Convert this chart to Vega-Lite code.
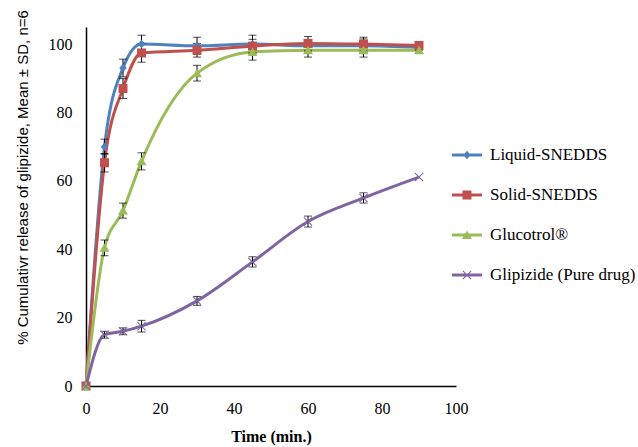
{
  "$schema": "https://vega.github.io/schema/vega-lite/v6.json",
  "width": 370,
  "height": 359,
  "autosize": {"type": "none"},
  "padding": {"left": 86, "top": 27, "right": 182, "bottom": 61},
  "background": "white",
  "config": {
    "view": {"stroke": null},
    "axis": {"grid": false, "ticks": false, "domainColor": "black", "domainWidth": 1.5, "labelColor": "black", "labelFont": "Liberation Serif", "labelFontSize": 16, "titleColor": "black", "labelFlush": false},
    "legend": {"symbolSize": 900, "symbolStrokeWidth": 0, "labelFont": "Liberation Serif", "labelFontSize": 17, "labelColor": "black", "labelOffset": 8, "rowPadding": 17, "padding": 0, "labelLimit": 300}
  },
  "data": {
    "values": [
      {"series": "Liquid-SNEDDS", "t": 0, "y": 0, "sd": 0},
      {"series": "Liquid-SNEDDS", "t": 5, "y": 70, "sd": 2.2},
      {"series": "Liquid-SNEDDS", "t": 10, "y": 93, "sd": 2.6},
      {"series": "Liquid-SNEDDS", "t": 15, "y": 100, "sd": 2.6},
      {"series": "Liquid-SNEDDS", "t": 30, "y": 99.5, "sd": 2.5},
      {"series": "Liquid-SNEDDS", "t": 45, "y": 100, "sd": 2.6},
      {"series": "Liquid-SNEDDS", "t": 60, "y": 99.5, "sd": 1.8},
      {"series": "Liquid-SNEDDS", "t": 75, "y": 99.5, "sd": 2},
      {"series": "Liquid-SNEDDS", "t": 90, "y": 99, "sd": 0.8},
      {"series": "Solid-SNEDDS", "t": 0, "y": 0, "sd": 0},
      {"series": "Solid-SNEDDS", "t": 5, "y": 65.3, "sd": 2.7},
      {"series": "Solid-SNEDDS", "t": 10, "y": 87, "sd": 2.9},
      {"series": "Solid-SNEDDS", "t": 15, "y": 97.4, "sd": 2.7},
      {"series": "Solid-SNEDDS", "t": 30, "y": 98.2, "sd": 2},
      {"series": "Solid-SNEDDS", "t": 45, "y": 99.4, "sd": 2},
      {"series": "Solid-SNEDDS", "t": 60, "y": 100.2, "sd": 2},
      {"series": "Solid-SNEDDS", "t": 75, "y": 100, "sd": 2},
      {"series": "Solid-SNEDDS", "t": 90, "y": 99.6, "sd": 0.8},
      {"series": "Glucotrol®", "t": 0, "y": 0, "sd": 0},
      {"series": "Glucotrol®", "t": 5, "y": 40.4, "sd": 2.3},
      {"series": "Glucotrol®", "t": 10, "y": 51.3, "sd": 2.2},
      {"series": "Glucotrol®", "t": 15, "y": 65.7, "sd": 2.5},
      {"series": "Glucotrol®", "t": 30, "y": 91.5, "sd": 2.3},
      {"series": "Glucotrol®", "t": 45, "y": 97.7, "sd": 2.4},
      {"series": "Glucotrol®", "t": 60, "y": 98.2, "sd": 2},
      {"series": "Glucotrol®", "t": 75, "y": 98.2, "sd": 2},
      {"series": "Glucotrol®", "t": 90, "y": 98.2, "sd": 0.8},
      {"series": "Glipizide (Pure drug)", "t": 0, "y": 0, "sd": 0},
      {"series": "Glipizide (Pure drug)", "t": 5, "y": 15, "sd": 1},
      {"series": "Glipizide (Pure drug)", "t": 10, "y": 16, "sd": 1},
      {"series": "Glipizide (Pure drug)", "t": 15, "y": 17.5, "sd": 1.7},
      {"series": "Glipizide (Pure drug)", "t": 30, "y": 24.9, "sd": 1.3},
      {"series": "Glipizide (Pure drug)", "t": 45, "y": 36.3, "sd": 1.5},
      {"series": "Glipizide (Pure drug)", "t": 60, "y": 48.1, "sd": 1.6},
      {"series": "Glipizide (Pure drug)", "t": 75, "y": 55, "sd": 1.5},
      {"series": "Glipizide (Pure drug)", "t": 90, "y": 61.1, "sd": 0}
    ]
  },
  "encoding": {
    "x": {"field": "t", "type": "quantitative", "scale": {"domain": [0, 100], "nice": false},
      "axis": {"values": [0, 20, 40, 60, 80, 100], "labelPadding": 14, "title": "Time (min.)", "titleFont": "Liberation Serif", "titleFontSize": 16, "titleFontWeight": "bold", "titlePadding": 12}},
    "y": {"field": "y", "type": "quantitative", "scale": {"domain": [0, 105], "nice": false},
      "axis": {"values": [0, 20, 40, 60, 80, 100], "labelPadding": 14, "title": "% Cumulativr release of glipizide, Mean ± SD, n=6", "titleFont": "Liberation Sans", "titleFontSize": 15, "titleFontWeight": "normal", "titleX": -56, "titleY": 150, "titleAngle": -90, "titleAlign": "center", "titleBaseline": "bottom"}}
  },
  "layer": [
    {
      "mark": {"type": "line", "interpolate": "monotone", "strokeWidth": 3},
      "encoding": {
        "color": {"field": "series", "type": "nominal", "sort": null,
          "scale": {"range": ["#4F81BD", "#C0504D", "#9BBB59", "#8064A2"]},
          "legend": null},
        "order": {"field": "t"}
      }
    },
    {
      "transform": [{"filter": "datum.sd > 0"}],
      "mark": {"type": "errorbar", "ticks": {"size": 8}, "color": "black", "thickness": 1},
      "encoding": {
        "yError": {"field": "sd"}
      }
    },
    {
      "transform": [{"filter": "datum.series == 'Liquid-SNEDDS'"}],
      "mark": {"type": "point", "filled": true, "opacity": 1, "color": "#4F81BD", "size": 100, "shape": "M0,-0.85L0.75,0L0,0.85L-0.75,0Z"}
    },
    {
      "transform": [{"filter": "datum.series == 'Solid-SNEDDS'"}],
      "mark": {"type": "point", "filled": true, "opacity": 1, "color": "#C0504D", "size": 100, "shape": "M-0.9,-0.9H0.9V0.9H-0.9Z"}
    },
    {
      "transform": [{"filter": "datum.series == 'Glucotrol®'"}],
      "mark": {"type": "point", "filled": true, "opacity": 1, "color": "#9BBB59", "size": 100, "shape": "M0,-0.9L1,0.8H-1Z"}
    },
    {
      "transform": [{"filter": "datum.series == 'Glipizide (Pure drug)'"}],
      "mark": {"type": "point", "filled": true, "opacity": 1, "color": "#8064A2", "size": 100, "shape": "M-0.9,-0.75L-0.75,-0.9L0.9,0.75L0.75,0.9Z M-0.9,0.75L0.75,-0.9L0.9,-0.75L-0.75,0.9Z"}
    },
    {
      "mark": {"type": "point", "filled": true, "size": 0, "opacity": 1},
      "encoding": {
        "fill": {"field": "series", "type": "nominal", "sort": null,
          "scale": {"domain": ["Liquid-SNEDDS", "Solid-SNEDDS", "Glucotrol®", "Glipizide (Pure drug)"], "range": ["#4F81BD", "#C0504D", "#9BBB59", "#8064A2"]},
          "legend": {"title": null, "orient": "none", "legendX": 366, "legendY": 113}},
        "shape": {"field": "series", "type": "nominal", "sort": null,
          "scale": {"domain": ["Liquid-SNEDDS", "Solid-SNEDDS", "Glucotrol®", "Glipizide (Pure drug)"],
            "range": [
              "M-1,-0.1H1V0.1H-1Z M0,-0.28L0.25,0L0,0.28L-0.25,0Z",
              "M-1,-0.1H1V0.1H-1Z M-0.3,-0.3H0.3V0.3H-0.3Z",
              "M-1,-0.1H1V0.1H-1Z M0,-0.3L0.33,0.27H-0.33Z",
              "M-1,-0.1H1V0.1H-1Z M-0.3,-0.25L-0.25,-0.3L0.3,0.25L0.25,0.3Z M-0.3,0.25L0.25,-0.3L0.3,-0.25L-0.25,0.3Z"
            ]},
          "legend": {"title": null, "orient": "none", "legendX": 366, "legendY": 113}}
      }
    }
  ]
}
